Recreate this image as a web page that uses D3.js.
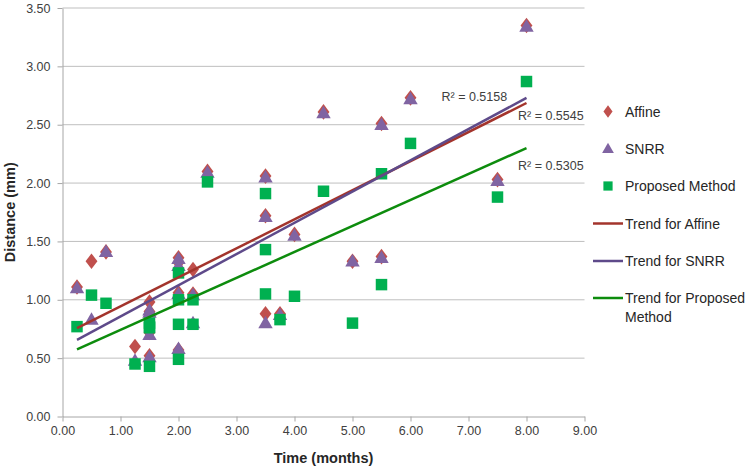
<!DOCTYPE html>
<html><head><meta charset="utf-8">
<script src="https://cdn.jsdelivr.net/npm/d3@7"></script>
<style>
body{margin:0;background:#fff;}
svg{display:block;font-family:"Liberation Sans",Arial,sans-serif;}
</style></head>
<body><svg id="c" width="750" height="469"></svg>
<script>
const times    = [0.25,0.5,0.75,1.25,1.5,1.5,1.5,1.5,2,2,2,2,2.25,2.25,2.5,3.5,3.5,3.5,3.75,4,4.5,5,5.5,5.5,6,7.5,8];
const affine   = [1.11,1.33,1.41,0.60,0.98,0.90,0.72,0.52,1.36,1.32,1.06,0.57,1.26,1.05,2.10,2.06,1.72,0.88,0.88,1.56,2.61,1.33,2.51,1.37,2.73,2.03,3.35];
const snrr     = [1.10,0.83,1.41,0.48,0.91,0.89,0.70,0.51,1.35,1.29,1.05,0.58,0.80,1.04,2.09,2.05,1.71,0.80,0.87,1.55,2.60,1.33,2.50,1.36,2.72,2.02,3.34];
const proposed = [0.77,1.04,0.97,0.45,0.80,0.77,0.76,0.43,1.23,1.00,0.79,0.49,1.00,0.79,2.01,1.91,1.43,1.05,0.83,1.03,1.93,0.80,2.08,1.13,2.34,1.88,2.87];

const seriesNames = ["Affine","SNRR","Proposed Method"];
const trendNames = ["Trend for Affine","Trend for SNRR","Trend for Proposed Method"];
const trendSlope = [0.249,0.2676,0.2225];
const trendIntercept = [0.694,0.589,0.520];
const trendRange = [0.25,8];
const r2Labels = ["R² = 0.5545","R² = 0.5158","R² = 0.5305"];

const xTicks = [0,1,2,3,4,5,6,7,8,9];
const yTicks = [0,0.5,1,1.5,2,2.5,3,3.5];

const markerColors = ["#c0504d","#8064a2","#00b050"];
const trendColors = ["#a3342c","#5e4a8a","#0d8c0d"];

const svg = d3.select("#c");
const L=62.5,R=584.5,T=8,B=416.5;
const x = d3.scaleLinear().domain([0,9]).range([L,R]);
const y = d3.scaleLinear().domain([0,3.5]).range([B,T]);

// grid
svg.append("g").selectAll("line").data(yTicks.filter(d=>d>0)).join("line")
  .attr("x1",L).attr("x2",R).attr("y1",d=>y(d)).attr("y2",d=>y(d))
  .attr("stroke","#bfbfbf").attr("stroke-width",1);

// axes
const xa = svg.append("g").attr("transform",`translate(0,${B})`)
  .call(d3.axisBottom(x).tickValues(xTicks).tickFormat(d3.format(".2f")).tickSize(5).tickSizeOuter(0));
const ya = svg.append("g").attr("transform",`translate(${L},0)`)
  .call(d3.axisLeft(y).tickValues(yTicks).tickFormat(d3.format(".2f")).tickSize(5).tickSizeOuter(0));
[xa,ya].forEach(a=>{
  a.select(".domain").attr("stroke","#a6a6a6");
  a.selectAll(".tick line").attr("stroke","#a6a6a6");
  a.selectAll("text").attr("fill","#404040").style("font-size","12.5px").style("font-family","\"Liberation Sans\",Arial,sans-serif");
});
xa.selectAll("text").attr("dy","0.71em").attr("y",10);
ya.selectAll("text").attr("x",-12);

// axis titles
svg.append("text").attr("x",(L+R)/2).attr("y",463).attr("text-anchor","middle")
  .style("font-weight","bold").style("font-size","14.5px").attr("fill","#262626").text("Time (months)");
svg.append("text").attr("transform",`translate(15,${(T+B)/2}) rotate(-90)`).attr("text-anchor","middle")
  .style("font-weight","bold").style("font-size","14.5px").attr("fill","#262626").text("Distance (mm)");

const symbols = [d3.symbolDiamond2 || d3.symbolDiamond, d3.symbolTriangle, d3.symbolSquare];
const sizes = [70, 85, 120];
const allSeries = [affine, snrr, proposed];

function drawSym(g, i, cx, cy, scale){
  const sym = i===0 ? d3.symbol().type(d3.symbolDiamond).size(sizes[i]*scale*0.95)
            : i===1 ? d3.symbol().type(d3.symbolTriangle).size(sizes[i]*scale)
            : d3.symbol().type(d3.symbolSquare).size(sizes[i]*scale);
  let tr = `translate(${cx},${cy})`;
  if(i===0) tr += " scale(1.15,0.85)";
  if(i===1) tr = `translate(${cx},${cy+1})`;
  g.append("path").attr("d",sym()).attr("transform",tr).attr("fill",markerColors[i]);
}

allSeries.forEach((vals,i)=>{
  const g = svg.append("g");
  vals.forEach((v,k)=>{
    if(i===0){
      g.append("path").attr("d",d3.symbol().type(d3.symbolDiamond).size(78)())
       .attr("transform",`translate(${x(times[k])},${y(v)}) scale(1.25,0.95)`).attr("fill",markerColors[0]);
    } else if(i===1){
      g.append("path").attr("d",d3.symbol().type(d3.symbolTriangle).size(90)())
       .attr("transform",`translate(${x(times[k])},${y(v)+1})`).attr("fill",markerColors[1]);
    } else {
      g.append("path").attr("d",d3.symbol().type(d3.symbolSquare).size(132)())
       .attr("transform",`translate(${x(times[k])},${y(v)})`).attr("fill",markerColors[2]);
    }
  });
});

// trend lines
trendSlope.forEach((s,i)=>{
  svg.append("line")
    .attr("x1",x(trendRange[0])).attr("y1",y(trendIntercept[i]+s*trendRange[0]))
    .attr("x2",x(trendRange[1])).attr("y2",y(trendIntercept[i]+s*trendRange[1]))
    .attr("stroke",trendColors[i]).attr("stroke-width",2.5);
});

// R² labels
const r2Pos = [[518,120],[441.5,101],[518,170]];
r2Labels.forEach((t,i)=>{
  svg.append("text").attr("x",r2Pos[i][0]).attr("y",r2Pos[i][1]).style("font-size","12.5px")
    .attr("fill","#404040").text(t);
});

// legend
const lg = svg.append("g");
const legY = [111.5,148.5,186,223.5,261,298];
seriesNames.forEach((n,i)=>{
  const cy = legY[i];
  if(i===0) lg.append("path").attr("d",d3.symbol().type(d3.symbolDiamond).size(50)()).attr("transform",`translate(608,${cy}) scale(1.2,0.95)`).attr("fill",markerColors[0]);
  if(i===1) lg.append("path").attr("d",d3.symbol().type(d3.symbolTriangle).size(60)()).attr("transform",`translate(608,${cy+1})`).attr("fill",markerColors[1]);
  if(i===2) lg.append("path").attr("d",d3.symbol().type(d3.symbolSquare).size(85)()).attr("transform",`translate(608,${cy})`).attr("fill",markerColors[2]);
  lg.append("text").attr("x",625).attr("y",cy+5).style("font-size","14px").attr("fill","#262626").text(n);
});
trendNames.forEach((n,i)=>{
  const cy = legY[3+i];
  lg.append("line").attr("x1",593).attr("x2",623).attr("y1",cy).attr("y2",cy).attr("stroke",trendColors[i]).attr("stroke-width",2.5);
  if(i===2){
    lg.append("text").attr("x",625).attr("y",cy+5).style("font-size","14px").attr("fill","#262626").text("Trend for Proposed");
    lg.append("text").attr("x",625).attr("y",cy+24).style("font-size","14px").attr("fill","#262626").text("Method");
  } else {
    lg.append("text").attr("x",625).attr("y",cy+5).style("font-size","14px").attr("fill","#262626").text(n);
  }
});
</script></body></html>
